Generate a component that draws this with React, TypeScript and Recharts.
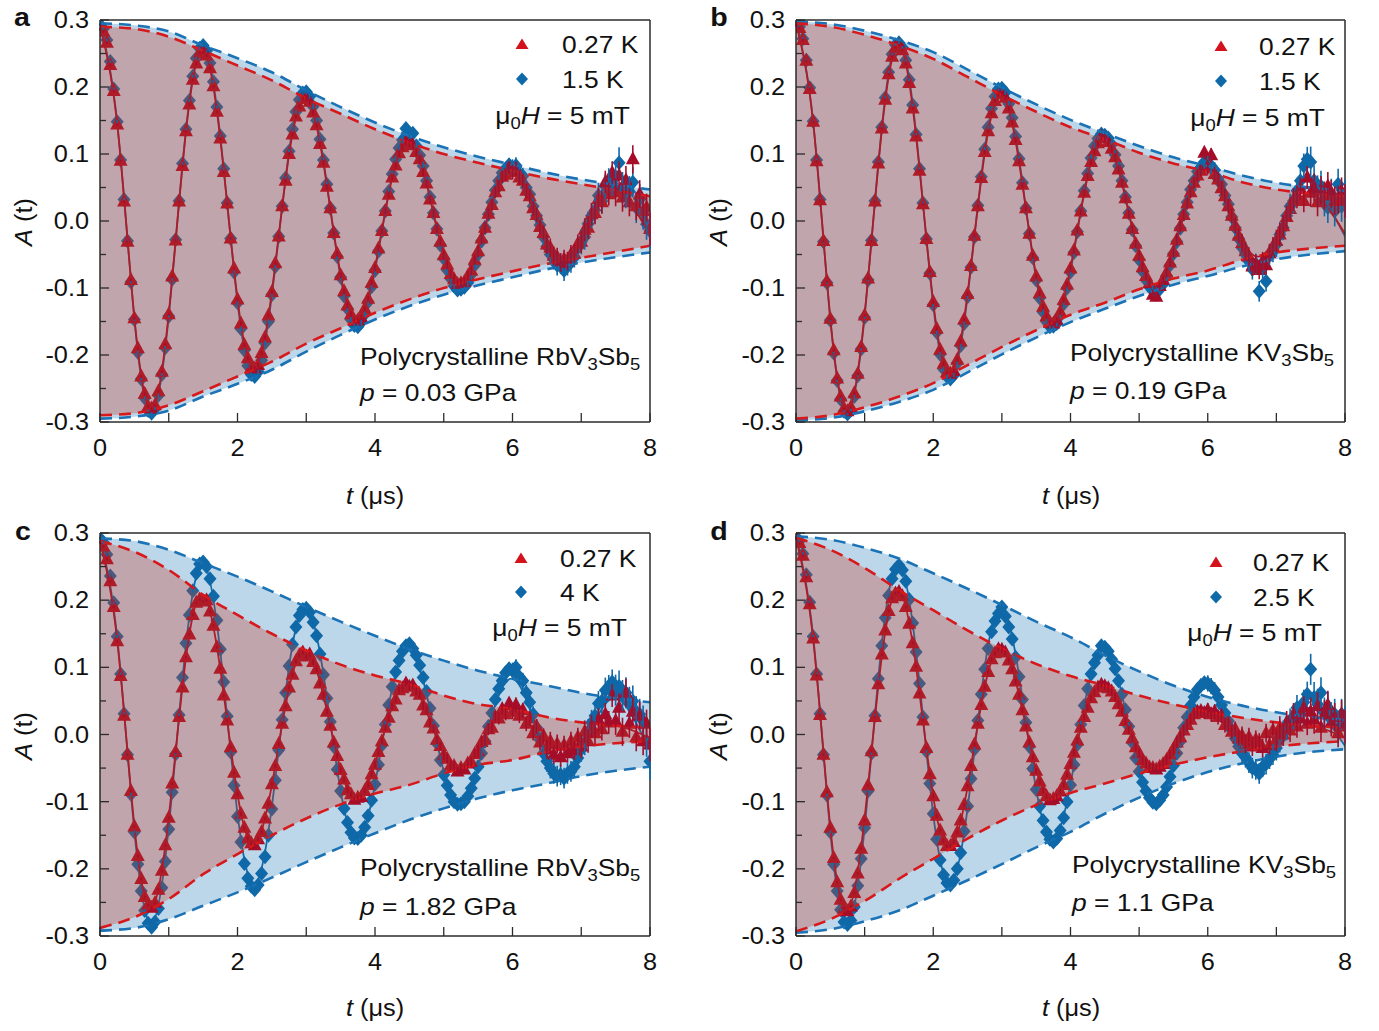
import React from 'react';
import {
  ComposedChart,
  Area,
  Line,
  Scatter,
  XAxis,
  YAxis,
  ErrorBar,
  ReferenceLine,
} from 'recharts';

const FONT = '"Liberation Sans", Arial, Helvetica, sans-serif';
const INK = '#2b2b2b';
const RED = '#a50d29';
const RED_KEY = '#d4121c';
const RED_DASH = '#d7191c';
const BLUE = '#0f69a8';
const BLUE_DASH = '#1b72b5';
const BLUE_FILL = '#bdd7ea';
const RED_VEIL = 'rgb(200,60,40)';

// time grids (μs): data bins, fit samples, envelope knots
const T_DATA = Array.from({ length: 161 }, (_, i) => Math.round(i * 5) / 100);
const T_FIT = Array.from({ length: 33 }, (_, i) => i * 0.25);
const T_ENV = Array.from({ length: 17 }, (_, i) => i * 0.5);
const X_TICKS = [0, 1, 2, 3, 4, 5, 6, 7, 8];
const Y_TICKS = [-0.3, -0.25, -0.2, -0.15, -0.1, -0.05, 0, 0.05, 0.1, 0.15, 0.2, 0.25, 0.3];

// error bar half-height, per 0.5 μs
const ERR = [.002, .002, .002, .002, .003, .003, .004, .004, .005, .006, .007, .009, .011, .014, .017, .021, .025];

// ---- panel a: RbV3Sb5, 0.03 GPa
const RA = [.286,.283,.266,.233,.194,.144,.090,.029,-.031,-.088,
-.145,-.190,-.232,-.258,-.277,-.280,-.275,-.254,-.225,-.184,
-.139,-.083,-.029,.029,.082,.134,.174,.211,.235,.251,
.252,.247,.228,.201,.163,.123,.073,.026,-.026,-.071,
-.117,-.153,-.185,-.205,-.219,-.220,-.215,-.197,-.174,-.141,
-.106,-.063,-.023,.022,.060,.100,.129,.156,.171,.183,
.182,.178,.162,.143,.115,.087,.051,.019,-.018,-.049,
-.081,-.105,-.126,-.139,-.149,-.148,-.144,-.131,-.116,-.092,
-.070,-.041,-.015,.015,.039,.065,.083,.101,.110,.118,
.116,.113,.103,.092,.073,.056,.032,.012,-.012,-.031,
-.051,-.065,-.079,-.087,-.094,-.093,-.091,-.082,-.074,-.058,
-.045,-.026,-.010,.011,.024,.043,.052,.066,.069,.080,
.073,.078,.065,.060,.045,.037,.019,.009,-.009,-.018,
-.035,-.040,-.052,-.054,-.062,-.057,-.060,-.050,-.049,-.034,
-.031,-.013,-.010,.010,.012,.033,.028,.058,.040,.072,
.043,.068,.035,.061,.028,.092,.022,.040,.015,.020,
-.012];
const BA = [.293,.287,.270,.238,.197,.148,.091,.032,-.030,-.091,
-.147,-.196,-.236,-.264,-.283,-.287,-.280,-.260,-.229,-.189,
-.142,-.087,-.028,.030,.086,.137,.180,.216,.243,.258,
.262,.254,.236,.208,.170,.127,.078,.027,-.026,-.076,
-.122,-.161,-.193,-.216,-.229,-.232,-.225,-.208,-.182,-.150,
-.110,-.068,-.023,.022,.064,.104,.137,.163,.181,.191,
.193,.186,.171,.150,.122,.091,.055,.019,-.018,-.053,
-.084,-.112,-.131,-.147,-.156,-.158,-.151,-.139,-.121,-.098,
-.074,-.045,-.015,.015,.044,.070,.092,.109,.121,.138,
.128,.131,.112,.098,.082,.060,.036,.012,-.012,-.036,
-.056,-.073,-.086,-.097,-.103,-.102,-.099,-.092,-.080,-.066,
-.050,-.030,-.010,.010,.028,.046,.060,.072,.078,.084,
.080,.083,.071,.067,.050,.040,.022,.008,-.006,-.024,
-.038,-.050,-.057,-.066,-.064,-.074,-.066,-.062,-.054,-.040,
-.031,-.024,-.004,.008,.016,.038,.030,.052,.060,.056,
.066,.087,.050,.042,.044,.058,.020,.032,.010,-.005,
-.015];
const FIT_RA = [.290,.145,-.144,-.281,-.138,.133,.254,.122,-.116,-.221,-.105,.099,.183,.086,-.080,-.149,-.069,.064,.117,.055,-.050,-.094,-.044,.041,.075,.035,-.032,-.060,-.028,.026,.046,.021,-.019];
const FIT_BA = [.295,.147,-.146,-.288,-.142,.136,.262,.126,-.121,-.233,-.111,.104,.195,.091,-.085,-.159,-.074,.069,.127,.059,-.055,-.103,-.048,.045,.084,.039,-.036,-.067,-.031,.029,.054,.025,-.024];
const ENV_RA = [.290,.287,.275,.254,.232,.210,.183,.160,.137,.117,.100,.087,.075,.064,.055,.046,.037];
const ENV_BA = [.295,.292,.283,.262,.243,.222,.195,.170,.147,.127,.110,.096,.084,.072,.062,.054,.047];

// ---- panel b: KV3Sb5, 0.19 GPa
const RB = [.292,.288,.270,.239,.197,.148,.089,.031,-.030,-.090,
-.146,-.193,-.235,-.262,-.280,-.284,-.278,-.257,-.228,-.188,
-.141,-.086,-.030,.029,.086,.138,.181,.219,.245,.259,
.262,.255,.235,.206,.168,.126,.075,.025,-.027,-.076,
-.121,-.161,-.192,-.213,-.226,-.228,-.224,-.207,-.180,-.147,
-.109,-.067,-.022,.022,.064,.103,.134,.161,.179,.189,
.190,.184,.168,.147,.121,.089,.054,.019,-.019,-.052,
-.083,-.108,-.128,-.142,-.152,-.153,-.148,-.136,-.118,-.095,
-.071,-.044,-.014,.014,.042,.067,.088,.104,.116,.126,
.124,.118,.108,.095,.077,.057,.034,.011,-.012,-.034,
-.052,-.069,-.082,-.093,-.110,-.113,-.097,-.088,-.077,-.062,
-.046,-.028,-.008,.009,.026,.043,.057,.068,.075,.102,
.080,.098,.070,.062,.049,.037,.022,.008,-.007,-.022,
-.033,-.045,-.053,-.068,-.064,-.073,-.060,-.066,-.048,-.038,
-.030,-.020,-.008,.006,.018,.032,.036,.048,.030,.065,
.042,.050,.028,.046,.038,.052,.040,.030,.032,.044,
.030];
const BB = [.296,.290,.272,.240,.199,.149,.091,.032,-.031,-.092,
-.148,-.197,-.238,-.266,-.284,-.288,-.282,-.262,-.231,-.191,
-.144,-.088,-.029,.030,.088,.140,.184,.222,.249,.263,
.266,.259,.240,.211,.173,.129,.078,.027,-.027,-.078,
-.125,-.166,-.199,-.221,-.232,-.236,-.230,-.212,-.186,-.153,
-.113,-.069,-.024,.023,.066,.107,.140,.168,.186,.197,
.198,.192,.175,.154,.126,.093,.057,.019,-.019,-.055,
-.088,-.115,-.136,-.150,-.158,-.157,-.153,-.141,-.124,-.100,
-.076,-.047,-.016,.015,.045,.071,.094,.112,.123,.130,
.128,.124,.114,.099,.082,.060,.036,.012,-.013,-.037,
-.058,-.075,-.088,-.098,-.104,-.106,-.102,-.094,-.082,-.066,
-.049,-.031,-.011,.010,.028,.047,.060,.074,.080,.088,
.085,.082,.076,.063,.055,.038,.025,.006,-.010,-.026,
-.040,-.048,-.060,-.072,-.064,-.105,-.070,-.090,-.050,-.046,
-.035,-.020,-.010,.008,.022,.030,.045,.060,.082,.092,
.088,.060,.045,.052,.030,.020,.040,.015,.055,.022,
.035];
const FIT_RB = [.295,.147,-.145,-.284,-.139,.135,.262,.126,-.121,-.229,-.108,.101,.188,.088,-.082,-.152,-.070,.066,.122,.056,-.051,-.094,-.043,.040,.074,.033,-.029,-.053,-.024,.022,.041,.020,-.019];
const FIT_BB = [.298,.148,-.147,-.289,-.142,.139,.270,.131,-.126,-.239,-.113,.107,.199,.094,-.087,-.163,-.076,.071,.131,.061,-.056,-.104,-.048,.045,.082,.038,-.034,-.063,-.029,.027,.050,.024,-.023];
const ENV_RB = [.295,.290,.278,.262,.242,.215,.188,.163,.140,.122,.102,.086,.074,.058,.047,.041,.037];
const ENV_BB = [.298,.294,.284,.270,.252,.226,.199,.174,.151,.131,.112,.095,.082,.068,.057,.050,.045];

// ---- panel c: RbV3Sb5, 1.82 GPa
const RC = [.286,.280,.261,.228,.190,.139,.087,.028,-.030,-.084,
-.137,-.181,-.215,-.242,-.254,-.258,-.251,-.231,-.203,-.165,
-.124,-.073,-.026,.026,.070,.115,.149,.178,.196,.201,
.198,.200,.183,.162,.130,.098,.058,.021,-.019,-.057,
-.089,-.118,-.139,-.155,-.162,-.165,-.156,-.145,-.125,-.103,
-.074,-.047,-.014,.016,.042,.070,.089,.109,.118,.122,
.116,.119,.108,.097,.076,.059,.034,.013,-.012,-.032,
-.053,-.067,-.083,-.089,-.097,-.094,-.093,-.084,-.075,-.059,
-.045,-.026,-.010,.010,.025,.042,.052,.066,.069,.076,
.071,.073,.064,.059,.043,.036,.018,.009,-.008,-.017,
-.031,-.036,-.046,-.047,-.055,-.050,-.052,-.043,-.041,-.029,
-.025,-.011,-.008,.008,.010,.026,.024,.038,.030,.046,
.034,.044,.028,.036,.016,.024,.002,.012,-.012,-.002,
-.022,-.010,-.030,-.014,-.034,-.016,-.028,-.010,-.024,-.004,
-.018,.004,-.010,.012,.002,.022,.008,.030,.018,.058,
.020,.040,.004,.062,.016,.034,-.004,.028,-.010,.016,
-.015];
const BC = [.292,.286,.268,.236,.196,.146,.090,.031,-.030,-.089,
-.145,-.193,-.233,-.262,-.281,-.287,-.279,-.259,-.228,-.189,
-.141,-.086,-.029,.029,.085,.136,.178,.214,.240,.254,
.257,.250,.232,.206,.170,.127,.078,.027,-.026,-.076,
-.122,-.160,-.192,-.214,-.226,-.231,-.224,-.207,-.182,-.150,
-.111,-.068,-.023,.022,.062,.102,.134,.160,.177,.186,
.188,.182,.167,.147,.120,.089,.054,.019,-.018,-.052,
-.084,-.110,-.131,-.146,-.154,-.155,-.150,-.138,-.121,-.098,
-.074,-.045,-.016,.015,.044,.071,.093,.110,.124,.132,
.135,.128,.118,.103,.085,.064,.039,.013,-.013,-.038,
-.060,-.076,-.090,-.100,-.104,-.103,-.100,-.092,-.080,-.065,
-.048,-.028,-.010,.012,.032,.052,.068,.080,.092,.098,
.095,.100,.086,.080,.062,.048,.030,.010,-.008,-.028,
-.040,-.050,-.058,-.062,-.060,-.065,-.058,-.055,-.048,-.035,
-.022,-.012,.004,.018,.028,.046,.050,.066,.070,.078,
.066,.072,.058,.062,.048,.050,.034,.030,.020,-.010,
-.040];
const FIT_RC = [.288,.140,-.136,-.259,-.123,.114,.208,.097,-.089,-.164,-.075,.069,.125,.058,-.052,-.096,-.044,.041,.075,.034,-.029,-.052,-.023,.021,.038,.016,-.013,-.022,-.009,.008,.013,.006,-.005];
const FIT_BC = [.292,.145,-.144,-.282,-.138,.133,.255,.123,-.118,-.224,-.107,.101,.190,.090,-.084,-.158,-.074,.069,.127,.060,-.055,-.103,-.048,.045,.083,.039,-.037,-.068,-.031,.029,.054,.026,-.024];
const ENV_RC = [.288,.272,.245,.208,.178,.150,.125,.104,.088,.075,.058,.045,.038,.026,.018,.013,.010];
const ENV_BC = [.292,.288,.275,.255,.235,.213,.190,.168,.147,.127,.110,.095,.083,.073,.062,.054,.048];

// ---- panel d: KV3Sb5, 1.1 GPa
const RD = [.292,.285,.266,.234,.194,.143,.088,.029,-.030,-.086,
-.139,-.184,-.220,-.246,-.259,-.263,-.256,-.236,-.207,-.170,
-.128,-.076,-.025,.026,.075,.119,.155,.184,.203,.210,
.212,.206,.190,.165,.136,.101,.061,.021,-.020,-.059,
-.092,-.121,-.143,-.158,-.166,-.166,-.160,-.146,-.128,-.105,
-.077,-.047,-.015,.016,.044,.071,.093,.112,.121,.127,
.126,.122,.110,.097,.079,.059,.036,.012,-.012,-.034,
-.054,-.070,-.084,-.092,-.098,-.096,-.092,-.085,-.075,-.060,
-.044,-.027,-.009,.010,.026,.040,.054,.063,.070,.074,
.072,.069,.064,.056,.045,.034,.020,.007,-.006,-.019,
-.028,-.038,-.043,-.049,-.050,-.052,-.048,-.044,-.038,-.030,
-.022,-.012,-.004,.006,.014,.022,.030,.034,.035,.032,
.036,.030,.034,.026,.028,.014,.016,.004,.008,-.006,
-.002,-.014,-.004,-.018,-.008,-.012,-.020,.002,-.016,.006,
-.008,.010,.000,.018,.006,.030,.012,.024,.040,.016,
.034,.022,.042,.010,.030,.044,.018,.026,.002,.030,
.012];
const BD = [.294,.288,.269,.238,.197,.146,.090,.031,-.030,-.090,
-.145,-.193,-.233,-.261,-.279,-.283,-.277,-.257,-.225,-.185,
-.139,-.084,-.028,.028,.083,.132,.174,.207,.232,.246,
.252,.245,.228,.201,.166,.123,.076,.026,-.025,-.073,
-.118,-.156,-.187,-.209,-.221,-.224,-.217,-.200,-.176,-.144,
-.107,-.066,-.022,.021,.060,.097,.128,.153,.169,.180,
.190,.176,.160,.142,.115,.086,.052,.018,-.018,-.051,
-.082,-.107,-.128,-.145,-.156,-.160,-.155,-.143,-.124,-.100,
-.075,-.045,-.015,.015,.043,.068,.090,.107,.118,.132,
.130,.124,.112,.098,.080,.060,.037,.012,-.012,-.035,
-.055,-.071,-.084,-.094,-.101,-.103,-.098,-.090,-.078,-.063,
-.046,-.028,-.010,.010,.026,.043,.056,.067,.073,.077,
.076,.072,.066,.056,.044,.032,.020,.006,-.006,-.018,
-.028,-.034,-.042,-.050,-.052,-.058,-.048,-.044,-.036,-.030,
-.020,-.008,.002,.010,.020,.026,.040,.030,.048,.060,
.097,.055,.045,.062,.032,.040,.025,.030,.010,.030,
.015];
const FIT_RD = [.293,.142,-.138,-.262,-.124,.116,.215,.100,-.093,-.170,-.078,.071,.128,.059,-.053,-.096,-.044,.040,.073,.033,-.029,-.052,-.023,.020,.034,.015,-.013,-.022,-.009,.008,.013,.006,-.005];
const FIT_BD = [.295,.146,-.145,-.284,-.139,.135,.252,.124,-.119,-.223,-.110,.100,.190,.088,-.082,-.157,-.074,.068,.128,.059,-.054,-.099,-.045,.040,.076,.035,-.031,-.052,-.022,.020,.040,.019,-.017];
const ENV_RD = [.293,.275,.248,.215,.185,.155,.128,.105,.087,.073,.058,.045,.034,.025,.018,.013,.010];
const ENV_BD = [.295,.290,.278,.262,.240,.217,.193,.168,.145,.118,.094,.073,.056,.043,.033,.026,.022];

const PANELS = [
  {
    key: 'a', left: 100, top: 20, w: 550, h: 402,
    red: RA, blue: BA, fitR: FIT_RA, fitB: FIT_BA, envR: ENV_RA, envB: ENV_BA,
    blueLabel: '1.5 K', compound: 'RbV', pressure: '0.03',
    letter: [22, 17], tri: [522, 44], dia: [522, 79], keyX: 562, mu: [630, 116],
    note: [360, 357, 393], yLab: [24, 222], xLab: [375, 496],
  },
  {
    key: 'b', left: 796, top: 20, w: 549, h: 402,
    red: RB, blue: BB, fitR: FIT_RB, fitB: FIT_BB, envR: ENV_RB, envB: ENV_BB,
    blueLabel: '1.5 K', compound: 'KV', pressure: '0.19',
    letter: [719, 17], tri: [1221, 46], dia: [1221, 81], keyX: 1259, mu: [1325, 118],
    note: [1070, 353, 391], yLab: [719, 222], xLab: [1071, 496],
  },
  {
    key: 'c', left: 100, top: 533, w: 550, h: 403,
    red: RC, blue: BC, fitR: FIT_RC, fitB: FIT_BC, envR: ENV_RC, envB: ENV_BC,
    blueLabel: '4 K', compound: 'RbV', pressure: '1.82',
    letter: [23, 531], tri: [521, 558], dia: [521, 592], keyX: 560, mu: [627, 628],
    note: [360, 868, 907], yLab: [24, 736], xLab: [375, 1008],
  },
  {
    key: 'd', left: 796, top: 533, w: 549, h: 403,
    red: RD, blue: BD, fitR: FIT_RD, fitB: FIT_BD, envR: ENV_RD, envB: ENV_BD,
    blueLabel: '2.5 K', compound: 'KV', pressure: '1.1',
    letter: [719, 531], tri: [1216, 562], dia: [1216, 597], keyX: 1253, mu: [1322, 633],
    note: [1072, 865, 903], yLab: [719, 736], xLab: [1071, 1008],
  },
];

const triangle = (p: any) =>
  p.cx == null ? <g /> : (
    <path d={`M${p.cx},${p.cy - 8}L${p.cx + 7},${p.cy + 5}L${p.cx - 7},${p.cy + 5}Z`} fill={RED} />
  );
const diamond = (p: any) =>
  p.cx == null ? <g /> : (
    <path d={`M${p.cx},${p.cy - 7.5}L${p.cx + 6.5},${p.cy}L${p.cx},${p.cy + 7.5}L${p.cx - 6.5},${p.cy}Z`} fill={BLUE} />
  );

const XTick = (p: any) => {
  const { x, y, payload } = p;
  const v = payload.value;
  return (
    <g>
      <line x1={x} x2={x} y1={y} y2={y - 9} stroke={INK} strokeWidth={1.3} />
      {v % 2 === 0 && (
        <text transform={`translate(${x},${y + 26}) scale(1.1,1)`} textAnchor="middle" dy="0.35em"
          fontSize={23} fontFamily={FONT} fill="#111">{v}</text>
      )}
    </g>
  );
};

const YTick = (p: any) => {
  const { x, y, payload } = p;
  const v = payload.value;
  const major = Math.abs(v * 10 - Math.round(v * 10)) < 1e-6;
  return (
    <g>
      <line x1={x} x2={x + (major ? 9 : 6)} y1={y} y2={y} stroke={INK} strokeWidth={1.3} />
      {major && (
        <text transform={`translate(${x - 11},${y}) scale(1.1,1)`} textAnchor="end" dy="0.35em"
          fontSize={23} fontFamily={FONT} fill="#111">{v.toFixed(1)}</text>
      )}
    </g>
  );
};

const Sub = ({ children }: { children: React.ReactNode }) => (
  <span style={{ fontSize: '0.7em', position: 'relative', top: '0.32em' }}>{children}</span>
);

const Txt = ({ x, y, size = 24, anchor = 'start', bold = false, children }: any) => {
  const tx = anchor === 'start' ? '0' : anchor === 'end' ? '-100%' : '-50%';
  const origin = anchor === 'start' ? 'left center' : anchor === 'end' ? 'right center' : 'center center';
  return (
    <div
      style={{
        position: 'absolute', left: x, top: y, fontFamily: FONT, fontSize: size, lineHeight: 1,
        whiteSpace: 'nowrap', color: '#111', fontWeight: bold ? 700 : 400,
        transform: `translate(${tx},-50%) scaleX(1.1)`, transformOrigin: origin,
      }}
    >
      {children}
    </div>
  );
};

const KeyMark = ({ x, y, kind }: { x: number; y: number; kind: 'tri' | 'dia' }) => (
  <svg width={18} height={18} style={{ position: 'absolute', left: x - 9, top: y - 9 }}>
    {kind === 'tri'
      ? <path d="M9,3.5L15.5,14L2.5,14Z" fill={RED_KEY} />
      : <path d="M9,2.5L15,9L9,15.5L3,9Z" fill={BLUE} />}
  </svg>
);

function Panel({ cfg }: { cfg: (typeof PANELS)[number] }) {
  const width = 100 + cfg.w + 10;
  const height = 20 + cfg.h + 90;
  const errAt = (t: number) => ERR[Math.min(16, Math.floor(t / 0.5))];
  const redPts = T_DATA.map((t, i) => ({ t, v: cfg.red[i], e: errAt(t) }));
  const bluePts = T_DATA.map((t, i) => ({ t, v: cfg.blue[i], e: errAt(t) * 1.1 }));
  const fit = T_FIT.map((t, i) => ({ t, r: cfg.fitR[i], b: cfg.fitB[i] }));
  const env = T_ENV.map((t, i) => ({
    t,
    rHi: cfg.envR[i], rLo: -cfg.envR[i], rBand: [-cfg.envR[i], cfg.envR[i]],
    bHi: cfg.envB[i], bLo: -cfg.envB[i], bBand: [-cfg.envB[i], cfg.envB[i]],
  }));
  const dash = { dot: false, activeDot: false, isAnimationActive: false, strokeWidth: 2.6, strokeDasharray: '12 7', type: 'monotone' as const };

  return (
    <div style={{ position: 'absolute', left: cfg.left - 100, top: cfg.top - 20 }}>
      <ComposedChart width={width} height={height} margin={{ top: 20, right: 10, left: 0, bottom: 0 }}>
        <XAxis type="number" dataKey="t" domain={[0, 8]} ticks={X_TICKS} interval={0} height={90}
          tickSize={0} tickMargin={0} tickLine={false} tick={(p: any) => <XTick {...p} />}
          axisLine={{ stroke: INK, strokeWidth: 1.5 }} allowDataOverflow />
        <YAxis type="number" domain={[-0.3, 0.3]} ticks={Y_TICKS} interval={0} width={100}
          tickSize={0} tickMargin={0} tickLine={false} tick={(p: any) => <YTick {...p} />}
          axisLine={{ stroke: INK, strokeWidth: 1.5 }} allowDataOverflow />

        <Area data={env} dataKey="bBand" type="monotone" stroke="none" fill={BLUE_FILL} fillOpacity={1}
          dot={false} activeDot={false} isAnimationActive={false} zIndex={100} />
        <Line data={fit} dataKey="b" type="natural" stroke={BLUE} strokeWidth={1.8}
          dot={false} activeDot={false} isAnimationActive={false} zIndex={110} />
        <Scatter data={bluePts} dataKey="v" shape={diamond} isAnimationActive={false} zIndex={120}>
          <ErrorBar dataKey="e" direction="y" width={0} stroke={BLUE} strokeWidth={1.6} />
        </Scatter>
        <Line data={fit} dataKey="r" type="natural" stroke={RED} strokeWidth={1.8}
          dot={false} activeDot={false} isAnimationActive={false} zIndex={130} />
        <Scatter data={redPts} dataKey="v" shape={triangle} isAnimationActive={false} zIndex={140}>
          <ErrorBar dataKey="e" direction="y" width={0} stroke={RED} strokeWidth={1.6} />
        </Scatter>
        <Area data={env} dataKey="rBand" type="monotone" stroke="none" fill={RED_VEIL} fillOpacity={0.32}
          dot={false} activeDot={false} isAnimationActive={false} zIndex={150} />

        <Line data={env} dataKey="bHi" stroke={BLUE_DASH} {...dash} zIndex={160} />
        <Line data={env} dataKey="bLo" stroke={BLUE_DASH} {...dash} zIndex={160} />
        <Line data={env} dataKey="rHi" stroke={RED_DASH} {...dash} zIndex={170} />
        <Line data={env} dataKey="rLo" stroke={RED_DASH} {...dash} zIndex={170} />

        <ReferenceLine y={0.3} stroke={INK} strokeWidth={1.5} zIndex={180} />
        <ReferenceLine x={8} stroke={INK} strokeWidth={1.5} zIndex={180} />
      </ComposedChart>
    </div>
  );
}

function PanelText({ cfg }: { cfg: (typeof PANELS)[number] }) {
  return (
    <>
      <Txt x={cfg.letter[0]} y={cfg.letter[1]} size={26} anchor="middle" bold>{cfg.key}</Txt>
      <KeyMark x={cfg.tri[0]} y={cfg.tri[1]} kind="tri" />
      <KeyMark x={cfg.dia[0]} y={cfg.dia[1]} kind="dia" />
      <Txt x={cfg.keyX} y={cfg.tri[1] + 1} size={24}>0.27 K</Txt>
      <Txt x={cfg.keyX} y={cfg.dia[1] + 1} size={24}>{cfg.blueLabel}</Txt>
      <Txt x={cfg.mu[0]} y={cfg.mu[1]} size={24} anchor="end">
        μ<Sub>0</Sub><i>H</i> = 5 mT
      </Txt>
      <Txt x={cfg.note[0]} y={cfg.note[1]} size={24}>
        Polycrystalline {cfg.compound}<Sub>3</Sub>Sb<Sub>5</Sub>
      </Txt>
      <Txt x={cfg.note[0]} y={cfg.note[2]} size={24}>
        <i>p</i> = {cfg.pressure} GPa
      </Txt>
      <Txt x={cfg.xLab[0]} y={cfg.xLab[1]} size={23} anchor="middle">
        <i>t</i> (μs)
      </Txt>
      <div
        style={{
          position: 'absolute', left: cfg.yLab[0], top: cfg.yLab[1], fontFamily: FONT, fontSize: 23,
          lineHeight: 1, whiteSpace: 'nowrap', color: '#111',
          transform: 'translate(-50%,-50%) rotate(-90deg) scaleX(1.1)',
        }}
      >
        <i>A</i> (t)
      </div>
    </>
  );
}

export default function App() {
  return (
    <div style={{ position: 'absolute', left: 0, top: 0, width: 1379, height: 1031, background: '#fff', overflow: 'hidden' }}>
      {PANELS.map((p) => <Panel key={p.key} cfg={p} />)}
      {PANELS.map((p) => <PanelText key={'t' + p.key} cfg={p} />)}
    </div>
  );
}
